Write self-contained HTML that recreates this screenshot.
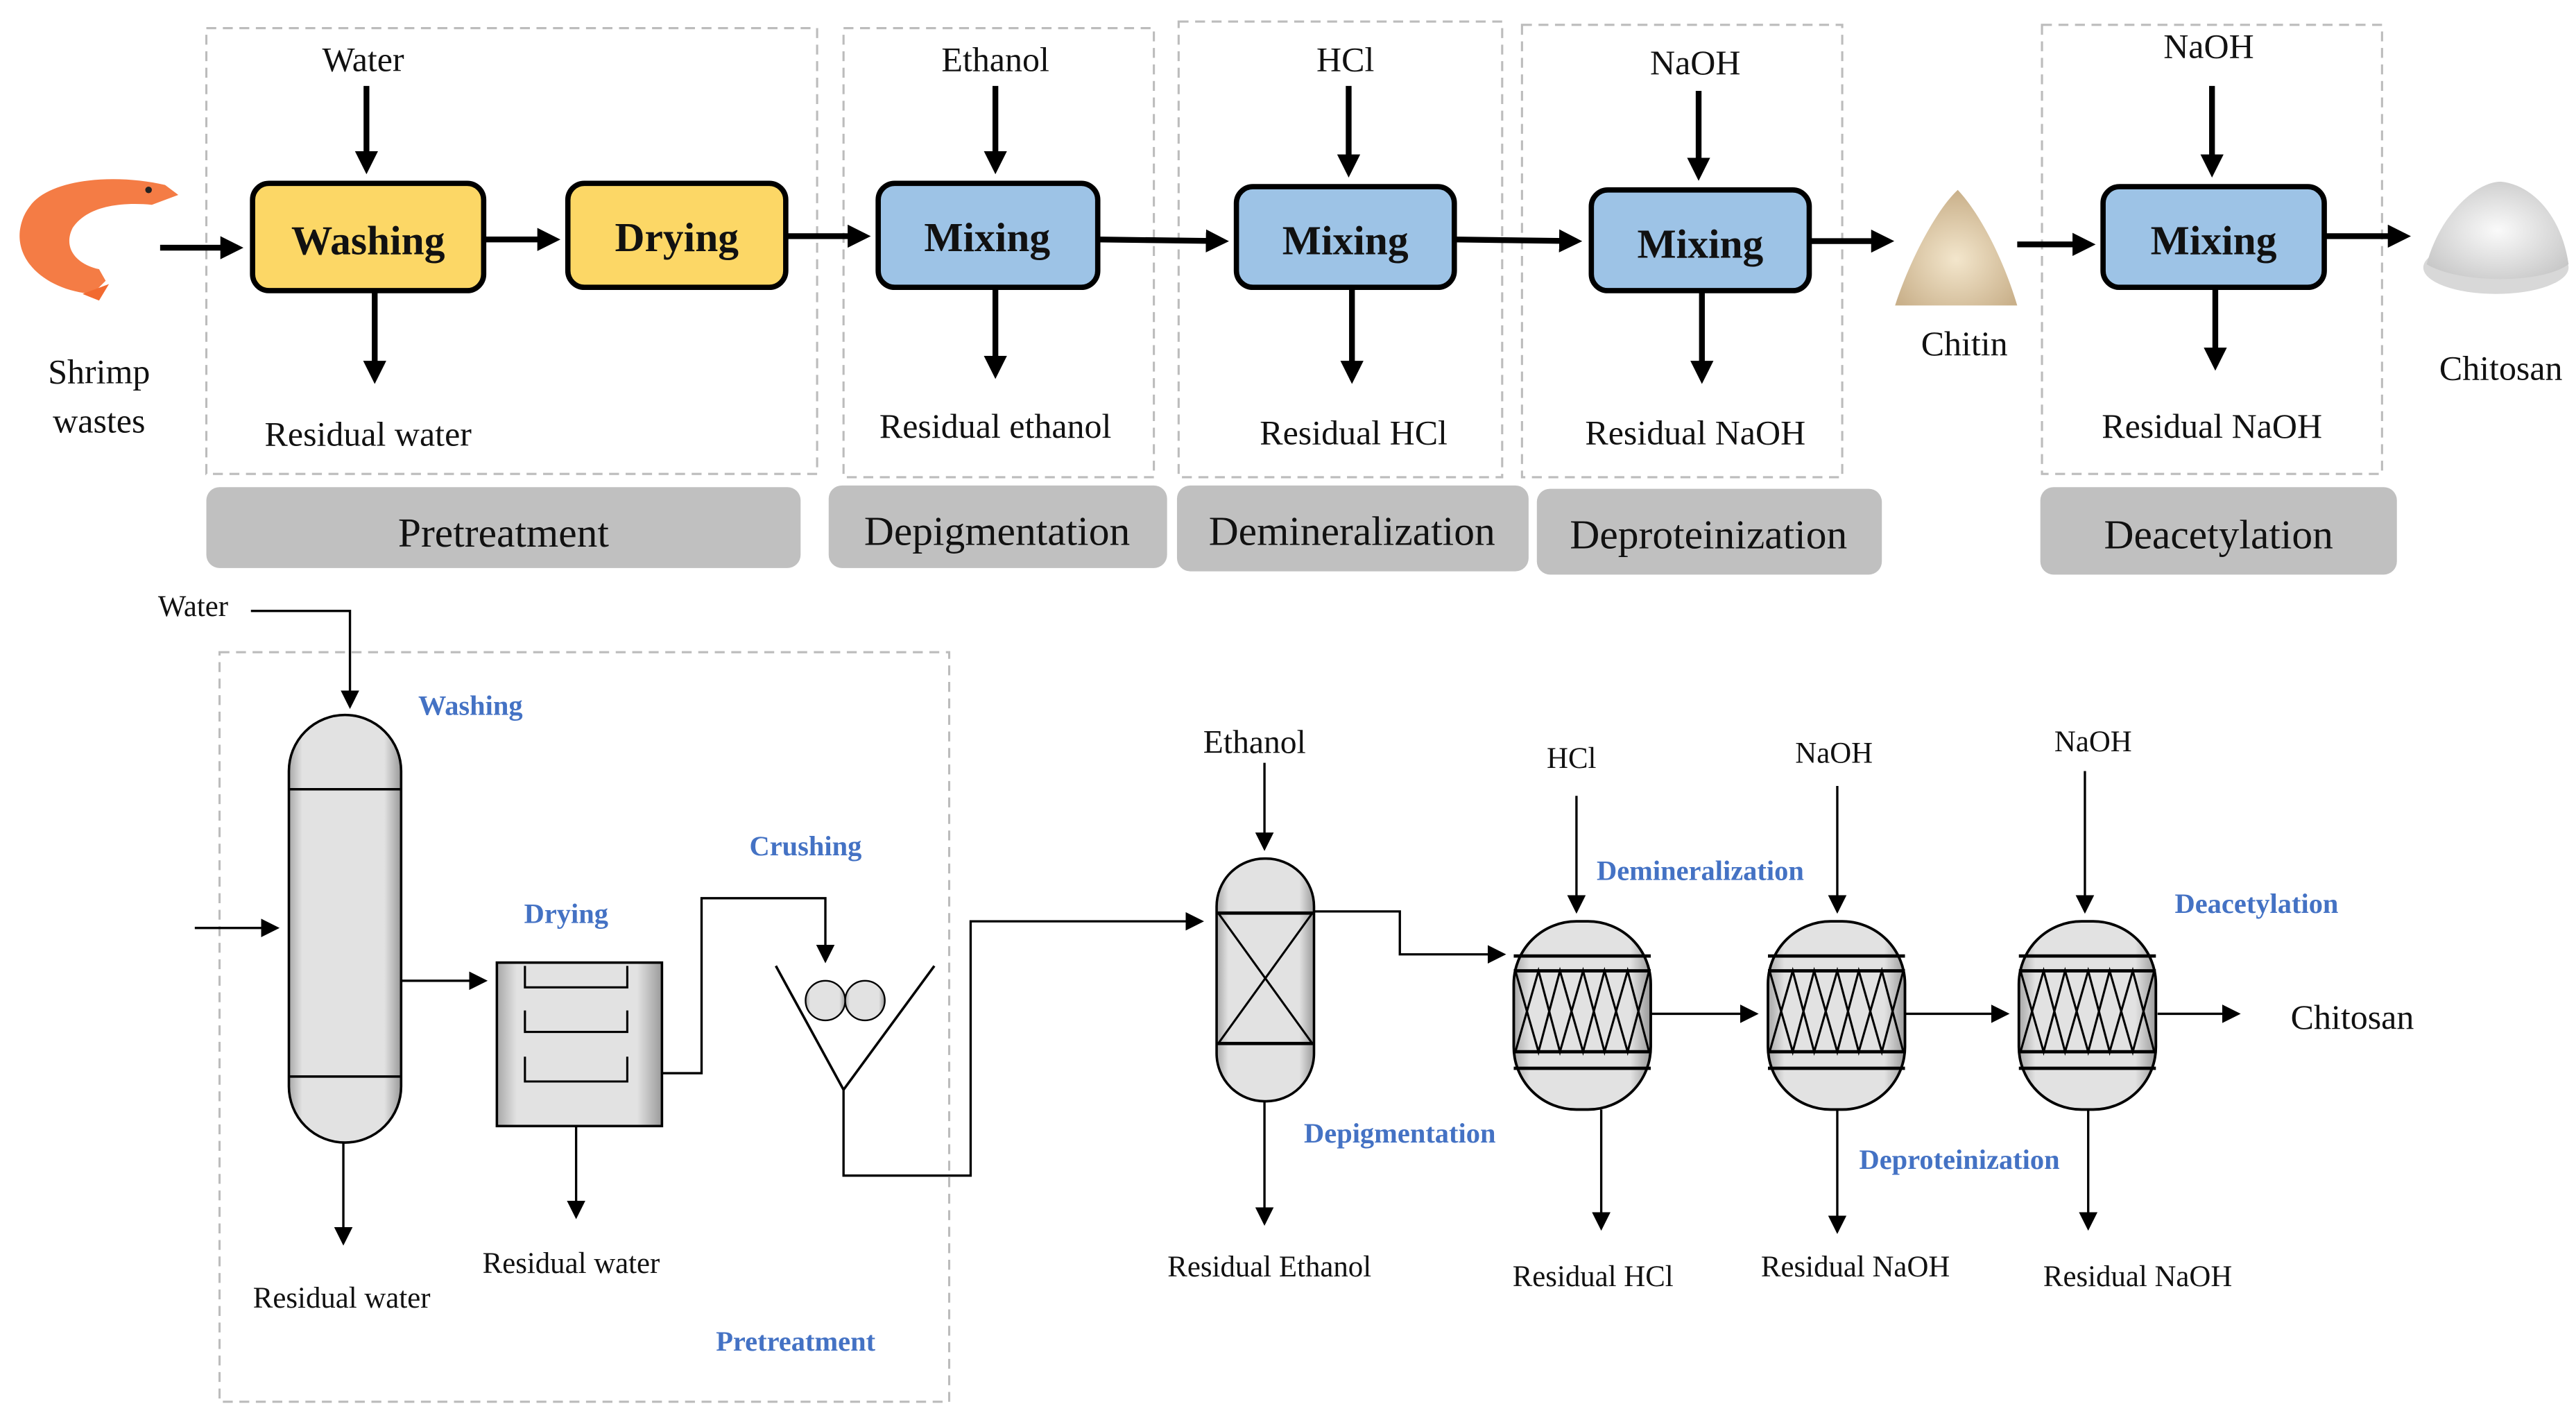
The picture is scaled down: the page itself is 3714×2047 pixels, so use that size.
<!DOCTYPE html>
<html><head><meta charset="utf-8"><style>
html,body{margin:0;padding:0;background:#fff;}
svg{display:block;}
svg text{font-family:"Liberation Serif","Times New Roman",serif !important;fill:#111;}
.t{font-size:21px;text-anchor:middle;}
.pb{font-size:25px;font-weight:bold;text-anchor:middle;}
.g{font-size:25px;text-anchor:middle;}
.s{font-size:18px;text-anchor:middle;}
.b{font-size:17px;font-weight:bold;fill:#4472c4 !important;text-anchor:middle;}
</style></head><body>
<svg width="3714" height="2047" viewBox="0 0 1560.5 860" xmlns="http://www.w3.org/2000/svg" font-family="Liberation Serif, serif">
<defs>
<marker id="A" markerWidth="4" markerHeight="4" refX="3" refY="2" orient="auto" markerUnits="strokeWidth"><path d="M0,0 L4,2 L0,4 Z" fill="#000"/></marker>
<marker id="a" markerWidth="8" markerHeight="8" refX="7" refY="4" orient="auto" markerUnits="strokeWidth"><path d="M0,0 L8,4 L0,8 Z" fill="#000"/></marker>
<linearGradient id="v" x1="0" x2="1" y1="0" y2="0"><stop offset="0" stop-color="#a8a8a8"/><stop offset="0.12" stop-color="#e2e2e2"/><stop offset="0.85" stop-color="#e2e2e2"/><stop offset="1" stop-color="#9a9a9a"/></linearGradient>
<radialGradient id="ch" cx="0.5" cy="0.6" r="0.6"><stop offset="0" stop-color="#f3e6cc"/><stop offset="1" stop-color="#c9b08a"/></radialGradient>
<radialGradient id="cs" cx="0.5" cy="0.5" r="0.6"><stop offset="0" stop-color="#fafafa"/><stop offset="1" stop-color="#c8c8c8"/></radialGradient>
</defs>

<g fill="none" stroke="#bcbcbc" stroke-width="1.3" stroke-dasharray="6,4">
<rect x="125" y="17" width="370" height="270"/>
<rect x="511" y="17" width="188" height="272"/>
<rect x="714" y="13" width="196" height="276"/>
<rect x="922" y="15" width="194" height="274"/>
<rect x="1237" y="15" width="206" height="272"/>
</g>
<g fill="#c0c0c0">
<rect x="125" y="295" width="360" height="49" rx="8"/>
<rect x="502" y="294" width="205" height="50" rx="8"/>
<rect x="713" y="294" width="213" height="52" rx="8"/>
<rect x="931" y="296" width="209" height="52" rx="8"/>
<rect x="1236" y="295" width="216" height="53" rx="8"/>
</g>
<text class="g" x="305" y="331">Pretreatment</text>
<text class="g" x="604" y="330">Depigmentation</text>
<text class="g" x="819" y="330">Demineralization</text>
<text class="g" x="1035" y="332">Deproteinization</text>
<text class="g" x="1344" y="332">Deacetylation</text>

<g stroke="#000" stroke-width="3.2">
<rect x="153" y="111" width="140" height="65" rx="10" fill="#fcd766"/>
<rect x="344" y="111" width="132" height="63" rx="10" fill="#fcd766"/>
<rect x="532" y="111" width="133" height="63" rx="10" fill="#9dc3e6"/>
<rect x="749" y="113" width="132" height="61" rx="10" fill="#9dc3e6"/>
<rect x="964" y="115" width="132" height="61" rx="10" fill="#9dc3e6"/>
<rect x="1274" y="113" width="134" height="61" rx="10" fill="#9dc3e6"/>
</g>
<text class="pb" x="223" y="154">Washing</text>
<text class="pb" x="410" y="152">Drying</text>
<text class="pb" x="598" y="152">Mixing</text>
<text class="pb" x="815" y="154">Mixing</text>
<text class="pb" x="1030" y="156">Mixing</text>
<text class="pb" x="1341" y="154">Mixing</text>

<g stroke="#000" stroke-width="3.5" marker-end="url(#A)">
<line x1="222" y1="52" x2="222" y2="102"/>
<line x1="603" y1="52" x2="603" y2="102"/>
<line x1="817" y1="52" x2="817" y2="104"/>
<line x1="1029" y1="55" x2="1029" y2="106"/>
<line x1="1340" y1="52" x2="1340" y2="104"/>
<line x1="227" y1="176" x2="227" y2="229"/>
<line x1="603" y1="174" x2="603" y2="226"/>
<line x1="819" y1="174" x2="819" y2="229"/>
<line x1="1031" y1="176" x2="1031" y2="229"/>
<line x1="1342" y1="174" x2="1342" y2="221"/>
<line x1="97" y1="150" x2="144" y2="150"/>
<line x1="293" y1="145" x2="336" y2="145"/>
<line x1="476" y1="143" x2="524" y2="143"/>
<line x1="665" y1="145" x2="741" y2="146"/>
<line x1="881" y1="145" x2="955" y2="146"/>
<line x1="1096" y1="146" x2="1144" y2="146"/>
<line x1="1222" y1="148" x2="1266" y2="148"/>
<line x1="1408" y1="143" x2="1457" y2="143"/>
</g>
<text class="t" x="220" y="43">Water</text>
<text class="t" x="603" y="43">Ethanol</text>
<text class="t" x="815" y="43">HCl</text>
<text class="t" x="1027" y="45">NaOH</text>
<text class="t" x="1338" y="35">NaOH</text>
<text class="t" x="223" y="270">Residual water</text>
<text class="t" x="603" y="265">Residual ethanol</text>
<text class="t" x="820" y="269">Residual HCl</text>
<text class="t" x="1027" y="269">Residual NaOH</text>
<text class="t" x="1340" y="265">Residual NaOH</text>
<text class="t" x="60" y="232">Shrimp</text>
<text class="t" x="60" y="262">wastes</text>
<text class="t" x="1190" y="215">Chitin</text>
<text class="t" x="1515" y="230">Chitosan</text>

<g fill="#f47c45">
<path d="M18,125 C30,108 70,105 100,112 L108,118 L92,124 C70,122 52,126 44,138 C38,150 46,160 60,163 L64,170 L56,178 C30,176 10,160 12,140 C13,133 15,129 18,125Z"/>
<circle cx="90" cy="115" r="2" fill="#222"/>
<path d="M50,178 L66,172 L60,182Z" fill="#f26a30"/>
</g>
<path d="M1148,185 C1156,160 1172,128 1186,115 C1200,130 1214,158 1222,185 Z" fill="url(#ch)"/>
<ellipse cx="1512" cy="162" rx="44" ry="16" fill="#d8d8d8"/>
<path d="M1470,160 C1478,130 1500,110 1515,110 C1535,112 1552,132 1556,160 C1540,172 1490,172 1470,160Z" fill="url(#cs)"/>

<rect x="133" y="395" width="442" height="454" fill="none" stroke="#bcbcbc" stroke-width="1.3" stroke-dasharray="6,4"/>
<g stroke="#000" stroke-width="1.4" fill="none">
<polyline points="152,370 212,370 212,428" marker-end="url(#a)"/>
<line x1="118" y1="562" x2="168" y2="562" marker-end="url(#a)"/>
<line x1="243" y1="594" x2="294" y2="594" marker-end="url(#a)"/>
<line x1="208" y1="692" x2="208" y2="753" marker-end="url(#a)"/>
<line x1="349" y1="682" x2="349" y2="737" marker-end="url(#a)"/>
<polyline points="401,650 425,650 425,544 500,544 500,582" marker-end="url(#a)"/>
<polyline points="511,660 511,712 588,712 588,558 728,558" marker-end="url(#a)"/>
<line x1="766" y1="462" x2="766" y2="514" marker-end="url(#a)"/>
<line x1="766" y1="667" x2="766" y2="741" marker-end="url(#a)"/>
<polyline points="796,552 848,552 848,578 911,578" marker-end="url(#a)"/>
<line x1="955" y1="482" x2="955" y2="552" marker-end="url(#a)"/>
<line x1="970" y1="672" x2="970" y2="744" marker-end="url(#a)"/>
<line x1="1000" y1="614" x2="1064" y2="614" marker-end="url(#a)"/>
<line x1="1113" y1="476" x2="1113" y2="552" marker-end="url(#a)"/>
<line x1="1113" y1="672" x2="1113" y2="746" marker-end="url(#a)"/>
<line x1="1154" y1="614" x2="1216" y2="614" marker-end="url(#a)"/>
<line x1="1263" y1="467" x2="1263" y2="552" marker-end="url(#a)"/>
<line x1="1265" y1="672" x2="1265" y2="744" marker-end="url(#a)"/>
<line x1="1307" y1="614" x2="1356" y2="614" marker-end="url(#a)"/>
</g>

<rect x="175" y="433" width="68" height="259" rx="34" fill="url(#v)" stroke="#000" stroke-width="1.5"/>
<line x1="175" y1="478" x2="243" y2="478" stroke="#000" stroke-width="1.5"/>
<line x1="175" y1="652" x2="243" y2="652" stroke="#000" stroke-width="1.5"/>
<rect x="301" y="583" width="100" height="99" fill="url(#v)" stroke="#000" stroke-width="1.5"/>
<g fill="none" stroke="#000" stroke-width="1.3">
<polyline points="318,585 318,598 380,598 380,585"/>
<polyline points="318,612 318,625 380,625 380,612"/>
<polyline points="318,640 318,655 380,655 380,640"/>
<polyline points="470,585 511,660 566,585" stroke-width="1.5"/>
</g>
<circle cx="500" cy="606" r="12" fill="url(#v)" stroke="#000" stroke-width="1"/>
<circle cx="524" cy="606" r="12" fill="url(#v)" stroke="#000" stroke-width="1"/>

<rect x="737" y="520" width="59" height="147" rx="29" fill="url(#v)" stroke="#000" stroke-width="1.5"/>
<g stroke="#000" stroke-width="1.3">
<line x1="737" y1="553" x2="796" y2="553" stroke-width="2"/>
<line x1="737" y1="632" x2="796" y2="632" stroke-width="2"/>
<line x1="738" y1="553" x2="795" y2="632"/>
<line x1="795" y1="553" x2="738" y2="632"/>
</g>

<g id="r1">
<rect x="917" y="558" width="83" height="114" rx="38" fill="url(#v)" stroke="#000" stroke-width="1.6"/>
<g stroke="#000" stroke-width="1.3" fill="none">
<line x1="917" y1="579" x2="1000" y2="579" stroke-width="2"/>
<line x1="917" y1="588" x2="1000" y2="588" stroke-width="2"/>
<line x1="917" y1="637" x2="1000" y2="637" stroke-width="2"/>
<line x1="917" y1="647" x2="1000" y2="647" stroke-width="2"/>
<polyline points="918,588 932,637 945,588 959,637 972,588 986,637 999,588"/>
<polyline points="918,637 932,588 945,637 959,588 972,637 986,588 999,637"/>
</g>
</g>
<use href="#r1" x="154"/>
<use href="#r1" x="306"/>

<text class="s" x="117" y="373">Water</text>
<text class="s" x="207" y="792">Residual water</text>
<text class="s" x="346" y="771">Residual water</text>
<text class="s" x="760" y="456" style="font-size:20px">Ethanol</text>
<text class="s" x="769" y="773">Residual Ethanol</text>
<text class="s" x="952" y="465">HCl</text>
<text class="s" x="965" y="779">Residual HCl</text>
<text class="s" x="1111" y="462">NaOH</text>
<text class="s" x="1124" y="773">Residual NaOH</text>
<text class="s" x="1268" y="455">NaOH</text>
<text class="s" x="1295" y="779">Residual NaOH</text>
<text class="s" x="1425" y="623" style="font-size:21px">Chitosan</text>

<text class="b" x="285" y="433">Washing</text>
<text class="b" x="343" y="559">Drying</text>
<text class="b" x="488" y="518">Crushing</text>
<text class="b" x="482" y="818">Pretreatment</text>
<text class="b" x="848" y="692">Depigmentation</text>
<text class="b" x="1030" y="533">Demineralization</text>
<text class="b" x="1187" y="708">Deproteinization</text>
<text class="b" x="1367" y="553">Deacetylation</text>
</svg>
</body></html>
